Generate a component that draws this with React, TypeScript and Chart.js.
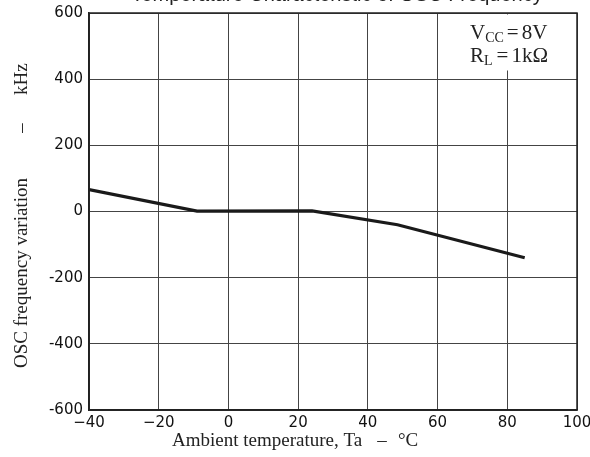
import React, { useEffect, useRef } from "react";
import { Chart, registerables } from "chart.js";

Chart.register(...registerables);

const temps = [-40, -9, 24, 48.5, 85];
const freqVar = [66, 1, 2, -40, -140];
const xTicks = [-40, -20, 0, 20, 40, 60, 80, 100];
const yTicks = [-600, -400, -200, 0, 200, 400, 600];
const titleText = "Temperature Characteristic of OSC Frequency";
const xTitleParts = ["Ambient temperature, Ta", "\u2013", "\u00B0C"];
const yTitleParts = ["OSC frequency variation", "\u2013", "kHz"];

const serif = "'Liberation Serif', 'Times New Roman', serif";

const textPlugin = {
  id: "customText",
  beforeDraw(chart: any) {
    const ctx = chart.ctx;
    ctx.save();
    ctx.fillStyle = "#fff";
    ctx.fillRect(0, 0, chart.width, chart.height);
    ctx.restore();
  },
  afterDatasetsDraw(chart: any) {
    const ctx = chart.ctx;
    ctx.save();
    ctx.fillStyle = "#222";
    ctx.font = "20px 'Liberation Sans', Arial, sans-serif";
    ctx.textAlign = "center";
    ctx.textBaseline = "alphabetic";
    ctx.fillText(titleText, 337, 1);
    // x title
    ctx.font = "19px " + serif;
    ctx.textBaseline = "middle";
    ctx.textAlign = "left";
    ctx.fillText(xTitleParts[0], 172, 441);
    ctx.textAlign = "center";
    ctx.fillText(xTitleParts[1], 382, 441);
    ctx.textAlign = "left";
    ctx.fillText(xTitleParts[2], 398, 441);
    // y title
    ctx.save();
    ctx.translate(22, 0);
    ctx.rotate(-Math.PI / 2);
    ctx.textAlign = "left";
    ctx.fillText(yTitleParts[0], -368, 0);
    ctx.textAlign = "center";
    ctx.fillText(yTitleParts[1], -128, 0);
    ctx.textAlign = "left";
    ctx.fillText(yTitleParts[2], -95, 0);
    ctx.restore();
    ctx.restore();
  },
  afterDraw(chart: any) {
    const ctx = chart.ctx;
    const area = chart.chartArea;
    ctx.save();
    ctx.fillStyle = "#fff";
    ctx.fillRect(440, area.top + 1.5, area.right - 440 - 1.5, 56);
    ctx.fillStyle = "#222";
    ctx.textBaseline = "alphabetic";
    ctx.textAlign = "left";
    const big = "21px " + serif;
    const small = "14px " + serif;
    let x = 470;
    let y = 39;
    ctx.font = big; ctx.fillText("V", x, y); x += ctx.measureText("V").width;
    ctx.font = small; ctx.fillText("CC", x, y + 3); x += ctx.measureText("CC").width + 3;
    ctx.font = big; ctx.fillText("=", x, y); x += ctx.measureText("=").width + 3;
    ctx.fillText("8V", x, y);
    x = 470; y = 62;
    ctx.font = big; ctx.fillText("R", x, y); x += ctx.measureText("R").width;
    ctx.font = small; ctx.fillText("L", x, y + 3); x += ctx.measureText("L").width + 4;
    ctx.font = big; ctx.fillText("=", x, y); x += ctx.measureText("=").width + 3;
    ctx.fillText("1k\u03A9", x, y);
    ctx.restore();
  },
};

export default function App() {
  const ref = useRef<HTMLCanvasElement>(null);
  useEffect(() => {
    if (!ref.current) return;
    const chart = new Chart(ref.current, {
      type: "line",
      data: {
        datasets: [
          {
            data: temps.map((t, i) => ({ x: t, y: freqVar[i] })),
            borderColor: "#1a1a1a",
            borderWidth: 3.2,
            pointRadius: 0,
            tension: 0,
            fill: false,
          },
        ],
      },
      options: {
        animation: false,
        responsive: false,
        maintainAspectRatio: false,
        layout: { padding: { top: 13, right: 13, left: 0, bottom: 0 } },
        plugins: { legend: { display: false }, tooltip: { enabled: false }, title: { display: false } },
        scales: {
          x: {
            type: "linear",
            min: -40,
            max: 100,
            afterBuildTicks: (axis: any) => {
              axis.ticks = xTicks.map((v) => ({ value: v }));
            },
            afterFit: (axis: any) => {
              axis.height = 47;
              axis.paddingLeft = 0;
              axis.paddingRight = 0;
            },
            ticks: {
              padding: 4,
              color: "#111",
              font: { family: "'DejaVu Sans', sans-serif", size: 15 },
              callback: (v: any) => (Number(v) < 0 ? "\u2212" + Math.abs(Number(v)) : String(v)),
              maxRotation: 0,
            },
            grid: { color: "#444", lineWidth: 1, drawTicks: false },
            border: { color: "#222", width: 1.5 },
          },
          y: {
            type: "linear",
            min: -600,
            max: 600,
            afterBuildTicks: (axis: any) => {
              axis.ticks = yTicks.map((v) => ({ value: v }));
            },
            afterFit: (axis: any) => {
              axis.width = 89;
              axis.paddingTop = 0;
              axis.paddingBottom = 0;
            },
            ticks: {
              padding: 6,
              color: "#111",
              font: { family: "'DejaVu Sans', sans-serif", size: 15 },
              callback: (v: any) => String(v),
            },
            grid: { color: "#444", lineWidth: 1, drawTicks: false },
            border: { color: "#222", width: 1.5 },
          },
        },
      },
      plugins: [
        textPlugin,
        {
          id: "frame",
          afterDraw(chart: any) {
            const a = chart.chartArea;
            const ctx = chart.ctx;
            ctx.save();
            ctx.strokeStyle = "#222";
            ctx.lineWidth = 1.5;
            ctx.strokeRect(a.left, a.top, a.right - a.left, a.bottom - a.top);
            ctx.restore();
          },
        },
      ],
    } as any);
    return () => chart.destroy();
  }, []);
  return (
    <div style={{ position: "fixed", left: 0, top: 0, width: 590, height: 457 }}>
      <canvas ref={ref} width={590} height={457} style={{ width: 590, height: 457 }} />
    </div>
  );
}
